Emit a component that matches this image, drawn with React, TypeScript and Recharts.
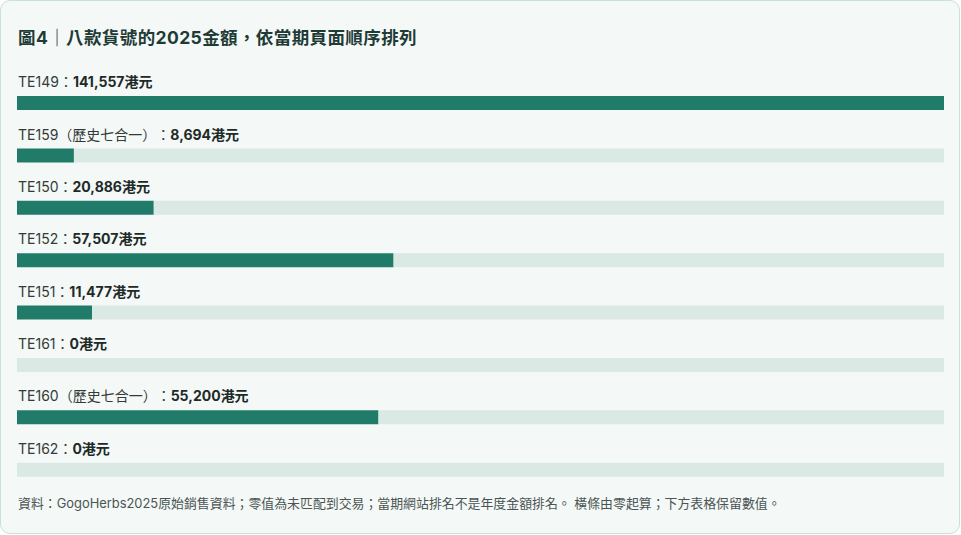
import { Bar, BarChart, XAxis, YAxis } from "recharts";

const codes = ["TE149", "TE159", "TE150", "TE152", "TE151", "TE161", "TE160", "TE162"];
const notes = ["", "歷史七合一", "", "", "", "", "歷史七合一", ""];
const amounts = [141557, 8694, 20886, 57507, 11477, 0, 55200, 0];

const maxAmount = Math.max(...amounts);

const data = codes.map((code, i) => ({
  name: notes[i] ? `${code}（${notes[i]}）` : code,
  amount: amounts[i],
  rest: maxAmount - amounts[i],
}));

const font = "Inter, 'Noto Sans CJK TC', sans-serif";

function RowLabel(props: any) {
  const { y, payload, index } = props;
  const value = amounts[index] ?? 0;
  return (
    <text x={2} y={y - 16} textAnchor="start" fontFamily={font} fontSize={14} fill="#333b39">
      <tspan>{payload.value}：</tspan>
      <tspan fontWeight={700} fill="#1e2a27">
        {value.toLocaleString("en-US")}港元
      </tspan>
    </text>
  );
}

export default function App() {
  return (
    <div
      lang="zh-TW"
      style={{
        position: "absolute",
        left: 0,
        top: 0,
        width: 958,
        height: 532,
        border: "1px solid #c8e2d9",
        borderRadius: 10,
        background: "#f4f8f7",
        fontFamily: font,
        textSpacingTrim: "space-all",
      } as any}
    >
      <div
        style={{
          position: "absolute",
          left: 17,
          top: 23,
          fontSize: 17.5,
          letterSpacing: 0.4,
          fontWeight: 700,
          color: "#1f3b36",
        }}
      >
        圖4｜八款貨號的2025金額，依當期頁面順序排列
      </div>
      <div style={{ position: "absolute", left: 15, top: 60 }}>
        <BarChart
          width={928}
          height={435}
          data={data}
          layout="vertical"
          margin={{ top: 16, right: 0, bottom: 0, left: 0 }}
          style={{ overflow: "visible" }}
        >
          <XAxis type="number" hide domain={[0, maxAmount]} />
          <YAxis
            type="category"
            dataKey="name"
            width={1}
            axisLine={false}
            tickLine={false}
            tick={(p: any) => <RowLabel {...p} />}
            interval={0}
          />
          <Bar dataKey="amount" stackId="a" barSize={14} fill="#207b69" isAnimationActive={false} />
          <Bar dataKey="rest" stackId="a" barSize={14} fill="#dbe9e4" isAnimationActive={false} />
        </BarChart>
      </div>
      <div
        style={{
          position: "absolute",
          left: 17,
          top: 492,
          fontSize: 12.9,
          color: "#4a5553",
        }}
      >
        資料：GogoHerbs2025原始銷售資料；零值為未匹配到交易；當期網站排名不是年度金額排名。 橫條由零起算；下方表格保留數值。
      </div>
    </div>
  );
}
